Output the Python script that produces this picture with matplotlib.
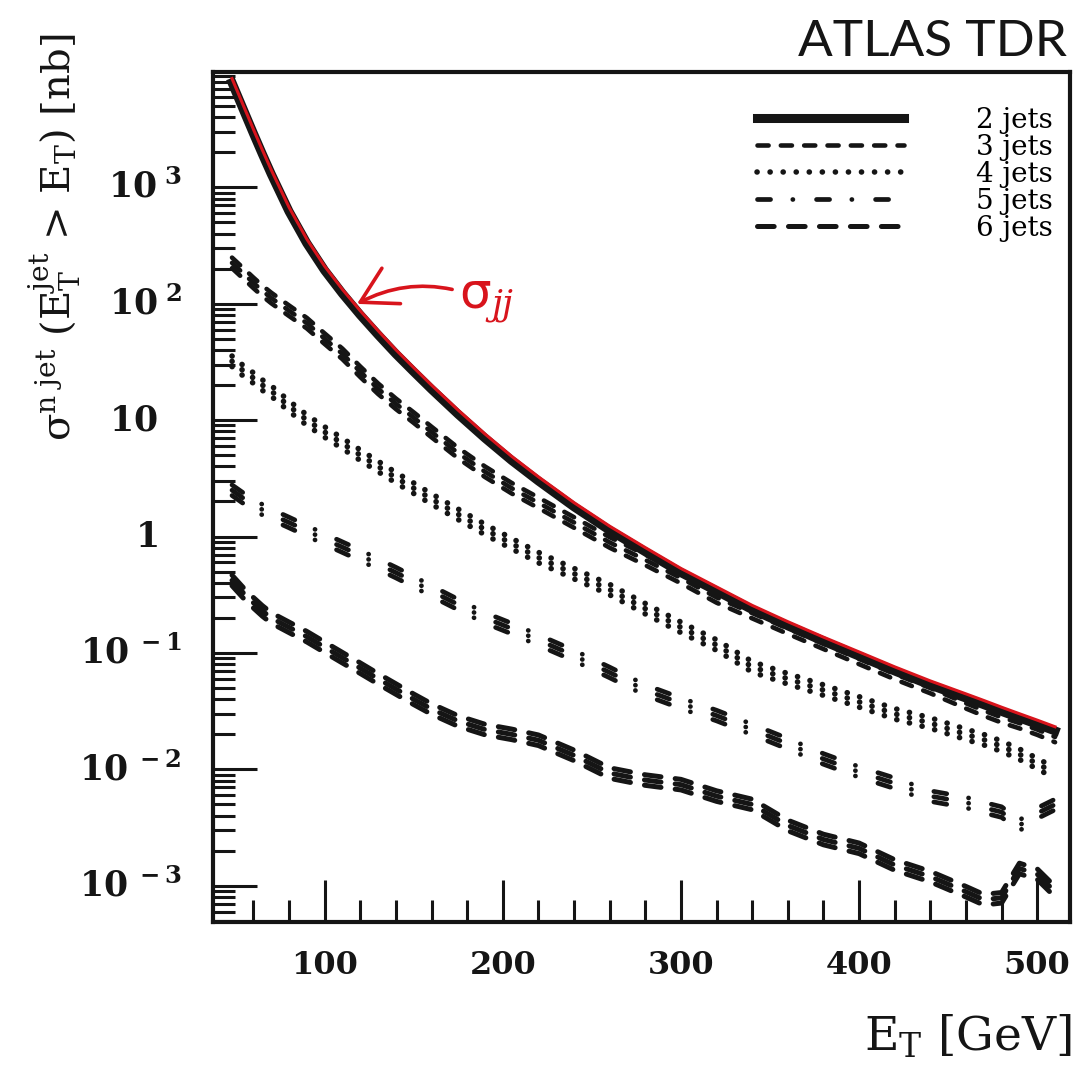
import matplotlib
matplotlib.use("Agg")
import matplotlib.pyplot as plt
from matplotlib.ticker import FixedLocator, LogLocator, NullFormatter
from matplotlib.transforms import offset_copy, blended_transform_factory

plt.rcParams['font.family'] = ['DejaVu Serif']
plt.rcParams['mathtext.fontset'] = 'dejavuserif'
plt.rcParams['lines.scale_dashes'] = False

# jet E_T threshold [GeV]
ET = [48, 55, 60, 65, 70, 80, 90, 100, 110, 120, 130, 140, 150, 160, 175, 190,
      205, 220, 240, 260, 280, 300, 320, 340, 360, 380, 400, 420, 440, 460,
      470, 480, 490, 500, 510]

# sigma(E_T^jet > E_T) [nb]
SIG_2J = [7900, 4400, 2900, 1930, 1300, 620, 330, 193, 122, 80, 54, 37, 26, 18.4,
          11.2, 7.0, 4.5, 3.0, 1.8, 1.13, 0.74, 0.49, 0.34, 0.236, 0.171, 0.126,
          0.094, 0.070, 0.053, 0.041, 0.036, 0.0315, 0.0277, 0.0244, 0.0214]
SIG_3J = [224, 178, 151, 129, 112, 87, 68, 50, 37, 26, 18.6, 13.8, 10.5, 7.9,
          5.2, 3.6, 2.6, 1.95, 1.32, 0.89, 0.63, 0.44, 0.30, 0.22, 0.162, 0.120,
          0.089, 0.066, 0.050, 0.037, 0.032, 0.028, 0.025, 0.022, 0.019]
SIG_4J = [32, 26, 23, 20, 17.8, 13.2, 10, 7.9, 6.3, 5.0, 4.0, 3.2, 2.6, 2.1,
          1.55, 1.15, 0.87, 0.66, 0.48, 0.35, 0.24, 0.166, 0.117, 0.076, 0.060,
          0.048, 0.038, 0.030, 0.025, 0.020, 0.018, 0.0158, 0.0135, 0.0112, 0.0093]
SIG_5J = [2.5, 2.1, 1.9, 1.7, 1.55, 1.32, 1.12, 0.95, 0.81, 0.69, 0.58, 0.49,
          0.41, 0.34, 0.26, 0.20, 0.162, 0.129, 0.095, 0.068, 0.048, 0.037,
          0.029, 0.022, 0.0166, 0.0123, 0.0095, 0.0076, 0.0059, 0.0052, 0.0047,
          0.0043, 0.0033, 0.0042, 0.0050]
SIG_6J = [0.42, 0.32, 0.27, 0.23, 0.20, 0.166, 0.138, 0.112, 0.091, 0.074, 0.060,
          0.049, 0.040, 0.033, 0.026, 0.022, 0.020, 0.0178, 0.0132, 0.0093,
          0.0081, 0.0074, 0.0059, 0.0050, 0.0033, 0.0025, 0.0021, 0.00151,
          0.00120, 0.00089, 0.00076, 0.00079, 0.00141, 0.00126, 0.00089]

LABELS = ["2 jets", "3 jets", "4 jets", "5 jets", "6 jets"]
X_TICKS = [100, 200, 300, 400, 500]
X_MINOR = list(range(60, 520, 20))
Y_TICKS = [1e-3, 1e-2, 1e-1, 1, 10, 1e2, 1e3]
Y_TICK_LABELS = [r"$\mathbf{10}^{\mathbf{\ -3}}$", r"$\mathbf{10}^{\mathbf{\ -2}}$",
                 r"$\mathbf{10}^{\mathbf{\ -1}}$", r"$\mathbf{1}$",
                 r"$\mathbf{10}$", r"$\mathbf{10}^{\mathbf{\ 2}}$",
                 r"$\mathbf{10}^{\mathbf{\ 3}}$"]

INK = "#151515"
RED = "#d8141c"

fig = plt.figure(figsize=(10.81, 10.72), dpi=100)
ax = fig.add_axes([0.197, 0.140, 0.793, 0.793])
ax.set_yscale("log")
ax.set_xlim(37.3, 518.5)
ax.set_ylim(4.9e-4, 9.8e3)

# line styles (dash lengths in points)
styles = [
    dict(ls="-", lw=6.5),
    dict(dashes=(8, 8.8), lw=3.3, dash_capstyle="round"),
    dict(dashes=(0.1, 9.3), lw=4.0, dash_capstyle="round"),
    dict(dashes=(9.4, 16, 0.1, 17), lw=3.4, dash_capstyle="round"),
    dict(dashes=(12, 10.3), lw=3.6, dash_capstyle="round"),
]
series = [SIG_2J, SIG_3J, SIG_4J, SIG_5J, SIG_6J]

handles = []
for i, (sig, st) in enumerate(zip(series, styles)):
    if i > 0:
        # the printed curves look like stacked strands
        for dy in (-3.8, 3.8):
            tr = offset_copy(ax.transData, fig=fig, x=0, y=dy, units="points")
            ax.plot(ET, sig, color=INK, transform=tr, **st)
    h, = ax.plot(ET, sig, color=INK, **st)
    handles.append(h)

# hand-drawn red overlay on the 2-jet curve
tr_red = offset_copy(ax.transData, fig=fig, x=0, y=3.0, units="points")
ax.plot(ET, SIG_2J, color=RED, lw=2.2, transform=tr_red, zorder=5)
ax.annotate("σ$_{jj}$", xy=(0.168, 0.727), xycoords="axes fraction",
            xytext=(0.287, 0.73), textcoords="axes fraction",
            color=RED, fontsize=36, family="DejaVu Sans", va="center",
            arrowprops=dict(arrowstyle="->,head_length=0.7,head_width=0.4",
                            color=RED, lw=2.6, shrinkA=3, shrinkB=0,
                            connectionstyle="arc3,rad=0.25"))

ax.legend(handles, LABELS, loc="upper right", bbox_to_anchor=(0.980, 0.959),
          frameon=False, fontsize=20, handlelength=5.3, handletextpad=2.6,
          labelspacing=0.0, borderpad=0, borderaxespad=0)

ax.xaxis.set_major_locator(FixedLocator(X_TICKS))
ax.xaxis.set_minor_locator(FixedLocator(X_MINOR))
ax.set_xticks(X_TICKS, labels=[str(v) for v in X_TICKS], fontweight="bold")
ax.set_yticks(Y_TICKS, labels=[""] * len(Y_TICKS))
ax.yaxis.set_minor_locator(LogLocator(base=10, subs=range(2, 10), numticks=30))
ax.yaxis.set_minor_formatter(NullFormatter())

# y tick labels: powers right-aligned past the plain numbers, as printed
ylab_tr = blended_transform_factory(ax.transAxes, ax.transData)
for val, lab in zip(Y_TICKS, Y_TICK_LABELS):
    xpos = -0.036 if "^" in lab else -0.064
    ax.text(xpos, val, lab, transform=ylab_tr, ha="right", va="center",
            fontsize=25, color=INK)

ax.tick_params(axis="both", which="both", direction="in", top=False, right=False,
               width=2.2, color=INK, labelcolor=INK)
ax.tick_params(axis="x", which="major", length=30, pad=20, labelsize=23)
ax.tick_params(axis="y", which="major", length=32)
ax.tick_params(axis="both", which="minor", length=16)
for sp in ax.spines.values():
    sp.set_linewidth(3)
    sp.set_color(INK)

fig.text(1072 / 1081, 1 - 1037 / 1072, r"E$_{\rm T}$ [GeV]", ha="right", va="center",
         fontsize=34, color=INK)
fig.text(55 / 1081, 1 - 33 / 1072,
         "σ$^{\\rm n\\ jet}$ (E$_{\\rm T}^{\\rm jet}$ > E$_{\\rm T}$) [nb]",
         rotation=90, ha="center", va="top", fontsize=29, color=INK)
fig.text(932 / 1081, 1 - 42 / 1072, "ATLAS TDR", ha="center", va="center",
         fontsize=37, family="Lato", color=INK)

fig.savefig("out.png", dpi=100, facecolor="white")
